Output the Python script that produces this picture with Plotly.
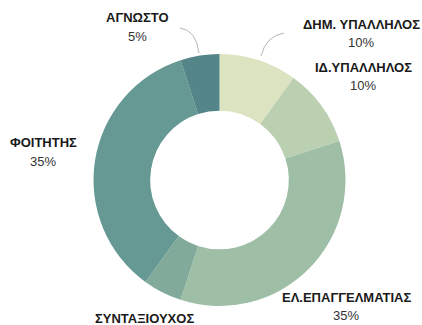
import plotly.graph_objects as go

# Occupation breakdown (percent)
categories = ["ΔΗΜ. ΥΠΑΛΛΗΛΟΣ", "ΙΔ.ΥΠΑΛΛΗΛΟΣ", "ΕΛ.ΕΠΑΓΓΕΛΜΑΤΙΑΣ",
              "ΣΥΝΤΑΞΙΟΥΧΟΣ", "ΦΟΙΤΗΤΗΣ", "ΑΓΝΩΣΤΟ"]
values = [10, 10, 35, 5, 35, 5]
colors = ["#dce3c1", "#bbcfb1", "#9ebea6", "#82aa9b", "#669993", "#548589"]

W, H = 422, 325

# label anchor points in pixels (centre of the category line)
label_pos = [(361, 24), (363, 67), (346, 297), (144, 318), (43, 143), (137, 18)]
# the retiree percentage falls below the chart's lower edge
show_pct = [True, True, True, False, True, True]


def px(x, y):
    return x / W, 1 - y / H


fig = go.Figure(go.Pie(
    labels=categories,
    values=values,
    hole=0.55,
    sort=False,
    direction="clockwise",
    rotation=0,
    marker=dict(colors=colors, line=dict(width=0)),
    textinfo="none",
    hoverinfo="label+percent",
    domain=dict(x=[93 / W, 346 / W], y=[1 - 306 / H, 1 - 54 / H]),
    showlegend=False,
))

total = sum(values)
font_name = dict(family="Liberation Sans, Arial", size=13, color="#1a1a1a")
font_pct = dict(family="Liberation Sans, Arial", size=13, color="#333333")
annotations = []
for name, v, (lx, ly), sp in zip(categories, values, label_pos, show_pct):
    x, y = px(lx, ly)
    annotations.append(dict(
        x=x, y=y, xref="paper", yref="paper", showarrow=False,
        text=f"<b>{name}</b>", xanchor="center", yanchor="middle",
        font=font_name,
    ))
    if sp:
        x2, y2 = px(lx, ly + 18.5)
        annotations.append(dict(
            x=x2, y=y2, xref="paper", yref="paper", showarrow=False,
            text=f"{round(100 * v / total)}%", xanchor="center", yanchor="middle",
            font=font_pct,
        ))


def curve(p0, c, p1):
    a, b, d = px(*p0), px(*c), px(*p1)
    return f"M {a[0]},{a[1]} Q {b[0]},{b[1]} {d[0]},{d[1]}"


shapes = [
    dict(type="path", xref="paper", yref="paper",
         path=curve((180, 28), (196, 30), (199, 53)),
         line=dict(color="#b5b5b5", width=1)),
    dict(type="path", xref="paper", yref="paper",
         path=curve((284, 33), (266, 36), (261, 56)),
         line=dict(color="#b5b5b5", width=1)),
]

fig.update_layout(
    width=W, height=H,
    margin=dict(l=0, r=0, t=0, b=0),
    paper_bgcolor="white",
    plot_bgcolor="white",
    annotations=annotations,
    shapes=shapes,
)

fig.write_html("out.html")
